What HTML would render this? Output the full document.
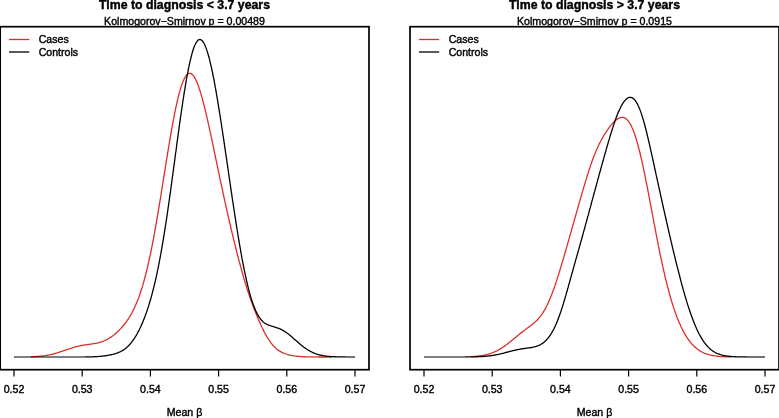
<!DOCTYPE html>
<html><head><meta charset="utf-8"><style>
html,body{margin:0;padding:0;background:#fff;}
svg{display:block;will-change:transform;}
text{font-family:"Liberation Sans",sans-serif;fill:#000;stroke:#000;stroke-width:0.4px;}
.t{font-weight:bold;font-size:12.3px;}
.s{font-size:10.6px;}
.l{font-size:10.6px;}
.n{font-size:10.6px;}
.cb{fill:none;stroke:#000;stroke-width:1.3;}
.cr{fill:none;stroke:#DE2D26;stroke-width:1.3;}
.box{fill:none;stroke:#000;stroke-width:1.7;}
.tk{stroke:#000;stroke-width:1.2;}
.lr{stroke:#DE2D26;stroke-width:1.3;}
.lb{stroke:#000;stroke-width:1.3;}
.bl{stroke:#000;stroke-width:1.1;}
</style></head><body>
<svg width="779" height="418" viewBox="0 0 779 418">
<rect width="779" height="418" fill="#fff"/>
<text x="184.5" y="8.6" class="t" text-anchor="middle">Time to diagnosis &lt; 3.7 years</text>
<text x="184.5" y="24.5" class="s" text-anchor="middle">Kolmogorov−Smirnov p = 0.00489</text>
<path d="M31.0,356.77 L31.8,356.74 L32.6,356.71 L33.4,356.68 L34.2,356.64 L35.0,356.60 L35.8,356.55 L36.6,356.50 L37.4,356.44 L38.2,356.38 L39.0,356.32 L39.8,356.25 L40.6,356.17 L41.4,356.09 L42.2,356.00 L43.0,355.91 L43.8,355.80 L44.6,355.70 L45.4,355.58 L46.2,355.46 L46.9,355.33 L47.7,355.19 L48.5,355.04 L49.3,354.89 L50.1,354.72 L50.9,354.55 L51.7,354.38 L52.4,354.19 L53.2,354.00 L54.0,353.80 L54.8,353.59 L55.5,353.38 L56.3,353.16 L57.1,352.93 L57.8,352.70 L58.6,352.46 L59.4,352.21 L60.1,351.97 L60.9,351.72 L61.7,351.46 L62.4,351.20 L63.2,350.94 L63.9,350.68 L64.7,350.42 L65.4,350.15 L66.2,349.89 L67.0,349.62 L67.7,349.36 L68.5,349.10 L69.2,348.84 L70.0,348.59 L70.8,348.34 L71.5,348.09 L72.3,347.85 L73.0,347.61 L73.8,347.38 L74.6,347.16 L75.4,346.94 L76.1,346.74 L76.9,346.53 L77.7,346.34 L78.5,346.16 L79.2,345.98 L80.0,345.81 L80.8,345.65 L81.6,345.50 L82.4,345.36 L83.2,345.22 L84.0,345.09 L84.8,344.96 L85.6,344.85 L86.3,344.73 L87.1,344.62 L87.9,344.51 L88.7,344.41 L89.5,344.30 L90.3,344.19 L91.1,344.08 L91.9,343.97 L92.7,343.85 L93.5,343.72 L94.3,343.59 L95.1,343.45 L95.9,343.30 L96.6,343.14 L97.4,342.96 L98.2,342.78 L99.0,342.57 L99.7,342.36 L100.5,342.13 L101.3,341.88 L102.0,341.62 L102.8,341.34 L103.5,341.05 L104.3,340.74 L105.0,340.42 L105.7,340.08 L106.4,339.72 L107.2,339.35 L107.9,338.97 L108.6,338.57 L109.2,338.16 L109.9,337.73 L110.6,337.30 L111.3,336.85 L111.9,336.39 L112.6,335.92 L113.2,335.44 L113.8,334.95 L114.5,334.45 L115.1,333.94 L115.7,333.42 L116.3,332.90 L116.9,332.36 L117.5,331.82 L118.1,331.27 L118.7,330.72 L119.2,330.15 L119.8,329.58 L120.3,329.00 L120.9,328.42 L121.4,327.83 L122.0,327.23 L122.5,326.63 L123.0,326.02 L123.5,325.40 L124.0,324.78 L124.5,324.15 L125.0,323.52 L125.5,322.88 L126.0,322.24 L126.5,321.59 L126.9,320.94 L127.4,320.28 L127.8,319.62 L128.3,318.95 L128.7,318.28 L129.1,317.60 L129.6,316.92 L130.0,316.24 L130.4,315.55 L130.8,314.85 L131.2,314.16 L131.6,313.46 L132.0,312.75 L132.3,312.05 L132.7,311.34 L133.1,310.62 L133.4,309.91 L133.8,309.19 L134.1,308.47 L134.5,307.74 L134.8,307.02 L135.1,306.29 L135.5,305.56 L135.8,304.82 L136.1,304.09 L136.4,303.35 L136.7,302.61 L137.0,301.87 L137.3,301.12 L137.6,300.38 L137.9,299.63 L138.2,298.88 L138.5,298.13 L138.8,297.38 L139.0,296.63 L139.3,295.87 L139.6,295.12 L139.8,294.36 L140.1,293.60 L140.4,292.85 L140.6,292.09 L140.9,291.32 L141.1,290.56 L141.4,289.80 L141.6,289.04 L141.8,288.27 L142.1,287.50 L142.3,286.74 L142.5,285.97 L142.8,285.20 L143.0,284.43 L143.2,283.66 L143.4,282.89 L143.7,282.12 L143.9,281.35 L144.1,280.58 L144.3,279.81 L144.5,279.03 L144.7,278.26 L144.9,277.49 L145.1,276.71 L145.3,275.94 L145.5,275.16 L145.7,274.38 L145.9,273.61 L146.1,272.83 L146.3,272.05 L146.5,271.27 L146.7,270.50 L146.9,269.72 L147.1,268.94 L147.3,268.16 L147.5,267.38 L147.6,266.60 L147.8,265.82 L148.0,265.04 L148.2,264.26 L148.4,263.48 L148.5,262.69 L148.7,261.91 L148.9,261.13 L149.1,260.35 L149.2,259.56 L149.4,258.78 L149.6,258.00 L149.7,257.21 L149.9,256.43 L150.1,255.65 L150.2,254.86 L150.4,254.08 L150.6,253.29 L150.7,252.51 L150.9,251.72 L151.1,250.94 L151.2,250.15 L151.4,249.37 L151.5,248.58 L151.7,247.80 L151.8,247.01 L152.0,246.22 L152.2,245.44 L152.3,244.65 L152.5,243.87 L152.6,243.08 L152.8,242.29 L152.9,241.50 L153.1,240.72 L153.2,239.93 L153.4,239.14 L153.5,238.35 L153.7,237.57 L153.8,236.78 L154.0,235.99 L154.1,235.20 L154.2,234.42 L154.4,233.63 L154.5,232.84 L154.7,232.05 L154.8,231.26 L155.0,230.47 L155.1,229.68 L155.2,228.90 L155.4,228.11 L155.5,227.32 L155.7,226.53 L155.8,225.74 L155.9,224.95 L156.1,224.16 L156.2,223.37 L156.4,222.58 L156.5,221.79 L156.6,221.00 L156.8,220.21 L156.9,219.42 L157.0,218.63 L157.2,217.84 L157.3,217.05 L157.4,216.26 L157.6,215.47 L157.7,214.68 L157.8,213.89 L158.0,213.10 L158.1,212.31 L158.2,211.52 L158.4,210.73 L158.5,209.94 L158.6,209.15 L158.8,208.36 L158.9,207.57 L159.0,206.78 L159.2,205.99 L159.3,205.20 L159.4,204.41 L159.5,203.62 L159.7,202.83 L159.8,202.03 L159.9,201.24 L160.1,200.45 L160.2,199.66 L160.3,198.87 L160.5,198.08 L160.6,197.29 L160.7,196.50 L160.8,195.71 L161.0,194.92 L161.1,194.12 L161.2,193.33 L161.3,192.54 L161.5,191.75 L161.6,190.96 L161.7,190.17 L161.9,189.38 L162.0,188.59 L162.1,187.79 L162.2,187.00 L162.4,186.21 L162.5,185.42 L162.6,184.63 L162.7,183.84 L162.9,183.05 L163.0,182.25 L163.1,181.46 L163.2,180.67 L163.4,179.88 L163.5,179.09 L163.6,178.30 L163.7,177.51 L163.9,176.71 L164.0,175.92 L164.1,175.13 L164.2,174.34 L164.4,173.55 L164.5,172.76 L164.6,171.97 L164.7,171.17 L164.9,170.38 L165.0,169.59 L165.1,168.80 L165.3,168.01 L165.4,167.22 L165.5,166.43 L165.6,165.63 L165.8,164.84 L165.9,164.05 L166.0,163.26 L166.1,162.47 L166.3,161.68 L166.4,160.89 L166.5,160.10 L166.6,159.30 L166.8,158.51 L166.9,157.72 L167.0,156.93 L167.2,156.14 L167.3,155.35 L167.4,154.56 L167.5,153.77 L167.7,152.98 L167.8,152.18 L167.9,151.39 L168.1,150.60 L168.2,149.81 L168.3,149.02 L168.4,148.23 L168.6,147.44 L168.7,146.65 L168.8,145.86 L169.0,145.07 L169.1,144.28 L169.2,143.49 L169.4,142.70 L169.5,141.91 L169.6,141.12 L169.8,140.33 L169.9,139.54 L170.0,138.75 L170.2,137.96 L170.3,137.17 L170.4,136.38 L170.6,135.59 L170.7,134.80 L170.8,134.01 L171.0,133.22 L171.1,132.43 L171.3,131.64 L171.4,130.85 L171.5,130.06 L171.7,129.27 L171.8,128.48 L172.0,127.69 L172.1,126.90 L172.2,126.12 L172.4,125.33 L172.5,124.54 L172.7,123.75 L172.8,122.96 L173.0,122.17 L173.1,121.39 L173.3,120.60 L173.4,119.81 L173.6,119.02 L173.7,118.24 L173.9,117.45 L174.0,116.66 L174.2,115.88 L174.3,115.09 L174.5,114.30 L174.6,113.52 L174.8,112.73 L174.9,111.95 L175.1,111.16 L175.3,110.38 L175.4,109.59 L175.6,108.81 L175.8,108.02 L175.9,107.24 L176.1,106.46 L176.3,105.67 L176.4,104.89 L176.6,104.11 L176.8,103.32 L177.0,102.54 L177.1,101.76 L177.3,100.98 L177.5,100.20 L177.7,99.42 L177.9,98.64 L178.1,97.86 L178.2,97.08 L178.4,96.31 L178.6,95.53 L178.8,94.75 L179.0,93.98 L179.2,93.20 L179.5,92.43 L179.7,91.66 L179.9,90.89 L180.1,90.12 L180.3,89.35 L180.6,88.58 L180.8,87.81 L181.0,87.05 L181.3,86.29 L181.5,85.53 L181.8,84.77 L182.1,84.01 L182.3,83.26 L182.6,82.51 L182.9,81.77 L183.2,81.02 L183.5,80.29 L183.9,79.56 L184.2,78.84 L184.6,78.12 L185.0,77.42 L185.4,76.74 L185.8,76.07 L186.3,75.43 L186.8,74.83 L187.4,74.28 L188.1,73.81 L188.8,73.48 L189.6,73.34 L190.4,73.42 L191.1,73.70 L191.8,74.13 L192.4,74.65 L193.0,75.23 L193.5,75.85 L193.9,76.50 L194.4,77.17 L194.8,77.86 L195.2,78.56 L195.6,79.27 L195.9,79.99 L196.3,80.71 L196.6,81.45 L196.9,82.18 L197.2,82.92 L197.5,83.66 L197.8,84.41 L198.1,85.16 L198.4,85.91 L198.6,86.67 L198.9,87.42 L199.1,88.18 L199.4,88.94 L199.7,89.70 L199.9,90.47 L200.1,91.23 L200.4,92.00 L200.6,92.76 L200.8,93.53 L201.1,94.30 L201.3,95.07 L201.5,95.84 L201.7,96.61 L201.9,97.38 L202.2,98.15 L202.4,98.93 L202.6,99.70 L202.8,100.47 L203.0,101.25 L203.2,102.02 L203.4,102.80 L203.6,103.57 L203.8,104.35 L204.0,105.13 L204.2,105.90 L204.4,106.68 L204.6,107.46 L204.8,108.24 L205.0,109.02 L205.2,109.79 L205.3,110.57 L205.5,111.35 L205.7,112.13 L205.9,112.91 L206.1,113.69 L206.3,114.47 L206.5,115.25 L206.6,116.03 L206.8,116.81 L207.0,117.59 L207.2,118.38 L207.4,119.16 L207.5,119.94 L207.7,120.72 L207.9,121.50 L208.1,122.28 L208.2,123.07 L208.4,123.85 L208.6,124.63 L208.8,125.41 L208.9,126.20 L209.1,126.98 L209.3,127.76 L209.4,128.54 L209.6,129.33 L209.8,130.11 L209.9,130.89 L210.1,131.68 L210.3,132.46 L210.5,133.24 L210.6,134.03 L210.8,134.81 L211.0,135.59 L211.1,136.38 L211.3,137.16 L211.5,137.95 L211.6,138.73 L211.8,139.51 L212.0,140.30 L212.1,141.08 L212.3,141.87 L212.5,142.65 L212.6,143.43 L212.8,144.22 L213.0,145.00 L213.1,145.79 L213.3,146.57 L213.4,147.35 L213.6,148.14 L213.8,148.92 L213.9,149.71 L214.1,150.49 L214.3,151.28 L214.4,152.06 L214.6,152.85 L214.8,153.63 L214.9,154.41 L215.1,155.20 L215.2,155.98 L215.4,156.77 L215.6,157.55 L215.7,158.34 L215.9,159.12 L216.1,159.91 L216.2,160.69 L216.4,161.47 L216.6,162.26 L216.7,163.04 L216.9,163.83 L217.0,164.61 L217.2,165.40 L217.4,166.18 L217.5,166.97 L217.7,167.75 L217.9,168.53 L218.0,169.32 L218.2,170.10 L218.4,170.89 L218.5,171.67 L218.7,172.46 L218.9,173.24 L219.0,174.02 L219.2,174.81 L219.4,175.59 L219.5,176.38 L219.7,177.16 L219.8,177.95 L220.0,178.73 L220.2,179.51 L220.3,180.30 L220.5,181.08 L220.7,181.87 L220.8,182.65 L221.0,183.43 L221.2,184.22 L221.3,185.00 L221.5,185.78 L221.7,186.57 L221.8,187.35 L222.0,188.14 L222.2,188.92 L222.4,189.70 L222.5,190.49 L222.7,191.27 L222.9,192.05 L223.0,192.84 L223.2,193.62 L223.4,194.40 L223.5,195.19 L223.7,195.97 L223.9,196.75 L224.0,197.53 L224.2,198.32 L224.4,199.10 L224.6,199.88 L224.7,200.67 L224.9,201.45 L225.1,202.23 L225.3,203.01 L225.4,203.80 L225.6,204.58 L225.8,205.36 L225.9,206.14 L226.1,206.93 L226.3,207.71 L226.5,208.49 L226.6,209.27 L226.8,210.05 L227.0,210.84 L227.2,211.62 L227.3,212.40 L227.5,213.18 L227.7,213.96 L227.9,214.74 L228.1,215.53 L228.2,216.31 L228.4,217.09 L228.6,217.87 L228.8,218.65 L228.9,219.43 L229.1,220.21 L229.3,220.99 L229.5,221.77 L229.7,222.56 L229.8,223.34 L230.0,224.12 L230.2,224.90 L230.4,225.68 L230.6,226.46 L230.8,227.24 L230.9,228.02 L231.1,228.80 L231.3,229.58 L231.5,230.36 L231.7,231.14 L231.9,231.92 L232.0,232.70 L232.2,233.48 L232.4,234.26 L232.6,235.04 L232.8,235.81 L233.0,236.59 L233.2,237.37 L233.4,238.15 L233.5,238.93 L233.7,239.71 L233.9,240.49 L234.1,241.27 L234.3,242.05 L234.5,242.82 L234.7,243.60 L234.9,244.38 L235.1,245.16 L235.3,245.94 L235.5,246.71 L235.7,247.49 L235.8,248.27 L236.0,249.05 L236.2,249.82 L236.4,250.60 L236.6,251.38 L236.8,252.15 L237.0,252.93 L237.2,253.71 L237.4,254.48 L237.6,255.26 L237.8,256.03 L238.0,256.81 L238.2,257.59 L238.4,258.36 L238.6,259.14 L238.8,259.91 L239.0,260.69 L239.2,261.46 L239.4,262.24 L239.7,263.01 L239.9,263.78 L240.1,264.56 L240.3,265.33 L240.5,266.11 L240.7,266.88 L240.9,267.65 L241.1,268.43 L241.3,269.20 L241.5,269.97 L241.8,270.74 L242.0,271.52 L242.2,272.29 L242.4,273.06 L242.6,273.83 L242.8,274.60 L243.1,275.37 L243.3,276.14 L243.5,276.91 L243.7,277.68 L243.9,278.45 L244.2,279.22 L244.4,279.99 L244.6,280.76 L244.9,281.53 L245.1,282.29 L245.3,283.06 L245.6,283.83 L245.8,284.59 L246.0,285.36 L246.3,286.13 L246.5,286.89 L246.7,287.66 L247.0,288.42 L247.2,289.18 L247.5,289.95 L247.7,290.71 L248.0,291.47 L248.2,292.23 L248.5,293.00 L248.7,293.76 L249.0,294.52 L249.2,295.28 L249.5,296.04 L249.7,296.79 L250.0,297.55 L250.2,298.31 L250.5,299.07 L250.8,299.82 L251.0,300.58 L251.3,301.33 L251.6,302.09 L251.9,302.84 L252.1,303.59 L252.4,304.35 L252.7,305.10 L253.0,305.85 L253.2,306.60 L253.5,307.35 L253.8,308.10 L254.1,308.84 L254.4,309.59 L254.7,310.34 L255.0,311.08 L255.3,311.83 L255.6,312.57 L255.9,313.32 L256.2,314.06 L256.5,314.80 L256.8,315.54 L257.1,316.28 L257.4,317.02 L257.7,317.76 L258.0,318.50 L258.3,319.23 L258.7,319.97 L259.0,320.70 L259.3,321.44 L259.6,322.17 L259.9,322.90 L260.3,323.63 L260.6,324.36 L260.9,325.09 L261.3,325.82 L261.6,326.54 L262.0,327.27 L262.3,327.99 L262.7,328.71 L263.0,329.43 L263.4,330.15 L263.7,330.87 L264.1,331.58 L264.5,332.29 L264.8,333.00 L265.2,333.71 L265.6,334.41 L266.0,335.11 L266.4,335.81 L266.8,336.50 L267.2,337.19 L267.6,337.88 L268.0,338.56 L268.5,339.23 L268.9,339.90 L269.3,340.57 L269.8,341.23 L270.3,341.88 L270.7,342.53 L271.2,343.17 L271.7,343.79 L272.2,344.41 L272.7,345.02 L273.3,345.62 L273.8,346.21 L274.4,346.79 L275.0,347.35 L275.5,347.90 L276.1,348.43 L276.7,348.95 L277.4,349.45 L278.0,349.93 L278.7,350.40 L279.3,350.84 L280.0,351.27 L280.7,351.68 L281.4,352.07 L282.1,352.44 L282.8,352.79 L283.6,353.12 L284.3,353.43 L285.0,353.72 L285.8,354.00 L286.6,354.25 L287.3,354.49 L288.1,354.71 L288.9,354.92 L289.6,355.11 L290.4,355.28 L291.2,355.44 L292.0,355.59 L292.8,355.73 L293.6,355.85 L294.4,355.97 L295.2,356.07 L296.0,356.17 L296.8,356.25 L297.6,356.33 L298.4,356.40 L299.2,356.46 L300.0,356.52 L300.8,356.57 L301.6,356.62 L302.4,356.66 L303.2,356.70 L304.0,356.74 L304.8,356.77 L305.6,356.79 L306.4,356.82 L307.2,356.84 L308.0,356.86 L308.8,356.88 L309.6,356.89 L310.4,356.90 L311.2,356.92 L312.0,356.93 L312.8,356.94 L313.6,356.94 L314.4,356.95 L315.2,356.96 L316.0,356.96 L316.8,356.97 L317.6,356.97 L318.4,356.98 L319.2,356.98 L320.0,356.98 L320.8,356.98 L321.6,356.99 L322.4,356.99 L323.2,356.99 L324.0,356.99 L324.8,356.99 L325.6,356.99 L326.4,356.99 L327.2,357.00 L328.0,357.00 L328.8,357.00 L329.6,357.00 L330.4,357.00 L331.2,357.00 L332.0,357.00" class="cr"/>
<path d="M84.5,356.97 L85.3,356.96 L86.1,356.96 L86.9,356.95 L87.7,356.94 L88.5,356.92 L89.3,356.91 L90.1,356.89 L90.9,356.87 L91.7,356.85 L92.5,356.82 L93.3,356.79 L94.1,356.76 L94.9,356.72 L95.7,356.68 L96.5,356.64 L97.3,356.58 L98.1,356.53 L98.9,356.46 L99.7,356.40 L100.5,356.32 L101.3,356.24 L102.1,356.15 L102.9,356.06 L103.7,355.96 L104.5,355.86 L105.3,355.74 L106.1,355.62 L106.9,355.50 L107.7,355.36 L108.5,355.22 L109.2,355.07 L110.0,354.92 L110.8,354.75 L111.6,354.58 L112.4,354.40 L113.2,354.20 L113.9,354.00 L114.7,353.78 L115.5,353.55 L116.2,353.31 L117.0,353.05 L117.7,352.77 L118.5,352.48 L119.2,352.17 L120.0,351.84 L120.7,351.49 L121.4,351.12 L122.1,350.73 L122.8,350.32 L123.5,349.89 L124.1,349.45 L124.8,348.98 L125.4,348.50 L126.0,347.99 L126.6,347.48 L127.2,346.94 L127.8,346.40 L128.4,345.83 L129.0,345.26 L129.5,344.67 L130.0,344.08 L130.6,343.47 L131.1,342.85 L131.6,342.23 L132.1,341.59 L132.5,340.95 L133.0,340.30 L133.5,339.64 L133.9,338.98 L134.4,338.31 L134.8,337.64 L135.2,336.96 L135.6,336.28 L136.1,335.59 L136.5,334.90 L136.9,334.20 L137.3,333.51 L137.6,332.80 L138.0,332.10 L138.4,331.39 L138.8,330.68 L139.1,329.96 L139.5,329.24 L139.8,328.52 L140.2,327.80 L140.5,327.08 L140.9,326.35 L141.2,325.62 L141.5,324.89 L141.8,324.16 L142.2,323.42 L142.5,322.68 L142.8,321.95 L143.1,321.21 L143.4,320.46 L143.7,319.72 L144.0,318.98 L144.3,318.23 L144.6,317.48 L144.9,316.73 L145.1,315.98 L145.4,315.23 L145.7,314.48 L146.0,313.73 L146.2,312.97 L146.5,312.22 L146.8,311.46 L147.0,310.70 L147.3,309.94 L147.5,309.18 L147.8,308.42 L148.0,307.66 L148.3,306.90 L148.5,306.13 L148.8,305.37 L149.0,304.61 L149.2,303.84 L149.5,303.07 L149.7,302.31 L149.9,301.54 L150.2,300.77 L150.4,300.00 L150.6,299.23 L150.8,298.46 L151.1,297.69 L151.3,296.92 L151.5,296.14 L151.7,295.37 L151.9,294.60 L152.1,293.82 L152.3,293.05 L152.5,292.28 L152.7,291.50 L152.9,290.72 L153.1,289.95 L153.3,289.17 L153.5,288.39 L153.7,287.62 L153.9,286.84 L154.1,286.06 L154.3,285.28 L154.5,284.50 L154.7,283.72 L154.8,282.94 L155.0,282.16 L155.2,281.38 L155.4,280.60 L155.6,279.82 L155.7,279.04 L155.9,278.26 L156.1,277.47 L156.3,276.69 L156.4,275.91 L156.6,275.13 L156.8,274.34 L156.9,273.56 L157.1,272.77 L157.3,271.99 L157.4,271.21 L157.6,270.42 L157.8,269.64 L157.9,268.85 L158.1,268.07 L158.2,267.28 L158.4,266.50 L158.6,265.71 L158.7,264.92 L158.9,264.14 L159.0,263.35 L159.2,262.56 L159.3,261.78 L159.5,260.99 L159.6,260.20 L159.8,259.42 L159.9,258.63 L160.1,257.84 L160.2,257.05 L160.4,256.27 L160.5,255.48 L160.6,254.69 L160.8,253.90 L160.9,253.11 L161.1,252.32 L161.2,251.53 L161.4,250.75 L161.5,249.96 L161.6,249.17 L161.8,248.38 L161.9,247.59 L162.0,246.80 L162.2,246.01 L162.3,245.22 L162.5,244.43 L162.6,243.64 L162.7,242.85 L162.9,242.06 L163.0,241.27 L163.1,240.48 L163.3,239.69 L163.4,238.90 L163.5,238.11 L163.6,237.32 L163.8,236.53 L163.9,235.73 L164.0,234.94 L164.2,234.15 L164.3,233.36 L164.4,232.57 L164.5,231.78 L164.7,230.99 L164.8,230.20 L164.9,229.40 L165.0,228.61 L165.2,227.82 L165.3,227.03 L165.4,226.24 L165.5,225.44 L165.7,224.65 L165.8,223.86 L165.9,223.07 L166.0,222.28 L166.1,221.48 L166.3,220.69 L166.4,219.90 L166.5,219.11 L166.6,218.31 L166.7,217.52 L166.9,216.73 L167.0,215.94 L167.1,215.14 L167.2,214.35 L167.3,213.56 L167.4,212.77 L167.6,211.97 L167.7,211.18 L167.8,210.39 L167.9,209.59 L168.0,208.80 L168.1,208.01 L168.2,207.22 L168.4,206.42 L168.5,205.63 L168.6,204.84 L168.7,204.04 L168.8,203.25 L168.9,202.46 L169.0,201.66 L169.2,200.87 L169.3,200.08 L169.4,199.28 L169.5,198.49 L169.6,197.69 L169.7,196.90 L169.8,196.11 L169.9,195.31 L170.0,194.52 L170.2,193.73 L170.3,192.93 L170.4,192.14 L170.5,191.35 L170.6,190.55 L170.7,189.76 L170.8,188.96 L170.9,188.17 L171.0,187.38 L171.1,186.58 L171.3,185.79 L171.4,184.99 L171.5,184.20 L171.6,183.41 L171.7,182.61 L171.8,181.82 L171.9,181.02 L172.0,180.23 L172.1,179.44 L172.2,178.64 L172.3,177.85 L172.4,177.05 L172.5,176.26 L172.7,175.47 L172.8,174.67 L172.9,173.88 L173.0,173.08 L173.1,172.29 L173.2,171.50 L173.3,170.70 L173.4,169.91 L173.5,169.11 L173.6,168.32 L173.7,167.52 L173.8,166.73 L173.9,165.94 L174.0,165.14 L174.2,164.35 L174.3,163.55 L174.4,162.76 L174.5,161.97 L174.6,161.17 L174.7,160.38 L174.8,159.58 L174.9,158.79 L175.0,157.99 L175.1,157.20 L175.2,156.41 L175.3,155.61 L175.4,154.82 L175.5,154.02 L175.6,153.23 L175.7,152.43 L175.9,151.64 L176.0,150.85 L176.1,150.05 L176.2,149.26 L176.3,148.46 L176.4,147.67 L176.5,146.87 L176.6,146.08 L176.7,145.29 L176.8,144.49 L176.9,143.70 L177.0,142.90 L177.1,142.11 L177.2,141.32 L177.3,140.52 L177.5,139.73 L177.6,138.93 L177.7,138.14 L177.8,137.34 L177.9,136.55 L178.0,135.76 L178.1,134.96 L178.2,134.17 L178.3,133.37 L178.4,132.58 L178.5,131.79 L178.6,130.99 L178.8,130.20 L178.9,129.41 L179.0,128.61 L179.1,127.82 L179.2,127.02 L179.3,126.23 L179.4,125.44 L179.5,124.64 L179.6,123.85 L179.7,123.06 L179.9,122.26 L180.0,121.47 L180.1,120.67 L180.2,119.88 L180.3,119.09 L180.4,118.29 L180.5,117.50 L180.6,116.71 L180.8,115.91 L180.9,115.12 L181.0,114.33 L181.1,113.53 L181.2,112.74 L181.3,111.95 L181.4,111.15 L181.6,110.36 L181.7,109.57 L181.8,108.78 L181.9,107.98 L182.0,107.19 L182.1,106.40 L182.3,105.61 L182.4,104.81 L182.5,104.02 L182.6,103.23 L182.7,102.43 L182.8,101.64 L183.0,100.85 L183.1,100.06 L183.2,99.27 L183.3,98.47 L183.5,97.68 L183.6,96.89 L183.7,96.10 L183.8,95.31 L183.9,94.51 L184.1,93.72 L184.2,92.93 L184.3,92.14 L184.4,91.35 L184.6,90.56 L184.7,89.77 L184.8,88.98 L185.0,88.19 L185.1,87.39 L185.2,86.60 L185.4,85.81 L185.5,85.02 L185.6,84.23 L185.8,83.44 L185.9,82.65 L186.0,81.86 L186.2,81.07 L186.3,80.29 L186.4,79.50 L186.6,78.71 L186.7,77.92 L186.9,77.13 L187.0,76.34 L187.2,75.55 L187.3,74.77 L187.5,73.98 L187.6,73.19 L187.8,72.40 L187.9,71.62 L188.1,70.83 L188.2,70.04 L188.4,69.26 L188.5,68.47 L188.7,67.69 L188.9,66.90 L189.0,66.12 L189.2,65.33 L189.3,64.55 L189.5,63.77 L189.7,62.99 L189.9,62.20 L190.0,61.42 L190.2,60.64 L190.4,59.86 L190.6,59.08 L190.8,58.30 L191.0,57.53 L191.2,56.75 L191.4,55.97 L191.6,55.20 L191.8,54.43 L192.0,53.65 L192.2,52.88 L192.4,52.11 L192.7,51.35 L192.9,50.58 L193.2,49.82 L193.4,49.06 L193.7,48.30 L193.9,47.55 L194.2,46.80 L194.5,46.05 L194.8,45.31 L195.2,44.58 L195.5,43.86 L195.9,43.15 L196.3,42.45 L196.7,41.77 L197.2,41.13 L197.7,40.53 L198.3,40.01 L199.0,39.63 L199.8,39.47 L200.6,39.59 L201.3,39.94 L201.9,40.44 L202.5,41.02 L203.0,41.66 L203.4,42.32 L203.8,43.01 L204.2,43.72 L204.6,44.43 L204.9,45.16 L205.2,45.89 L205.5,46.63 L205.8,47.38 L206.1,48.13 L206.4,48.88 L206.7,49.64 L206.9,50.40 L207.2,51.16 L207.4,51.92 L207.6,52.69 L207.9,53.45 L208.1,54.22 L208.3,54.99 L208.5,55.77 L208.7,56.54 L209.0,57.31 L209.2,58.09 L209.4,58.86 L209.6,59.64 L209.8,60.42 L209.9,61.19 L210.1,61.97 L210.3,62.75 L210.5,63.53 L210.7,64.31 L210.9,65.09 L211.0,65.87 L211.2,66.66 L211.4,67.44 L211.6,68.22 L211.7,69.00 L211.9,69.79 L212.1,70.57 L212.2,71.36 L212.4,72.14 L212.6,72.93 L212.7,73.71 L212.9,74.50 L213.0,75.28 L213.2,76.07 L213.4,76.85 L213.5,77.64 L213.7,78.43 L213.8,79.21 L214.0,80.00 L214.1,80.79 L214.3,81.57 L214.4,82.36 L214.6,83.15 L214.7,83.94 L214.9,84.73 L215.0,85.51 L215.1,86.30 L215.3,87.09 L215.4,87.88 L215.6,88.67 L215.7,89.46 L215.8,90.25 L216.0,91.04 L216.1,91.82 L216.3,92.61 L216.4,93.40 L216.5,94.19 L216.7,94.98 L216.8,95.77 L216.9,96.56 L217.1,97.35 L217.2,98.14 L217.3,98.93 L217.5,99.72 L217.6,100.51 L217.7,101.30 L217.9,102.09 L218.0,102.89 L218.1,103.68 L218.3,104.47 L218.4,105.26 L218.5,106.05 L218.6,106.84 L218.8,107.63 L218.9,108.42 L219.0,109.21 L219.2,110.00 L219.3,110.80 L219.4,111.59 L219.5,112.38 L219.7,113.17 L219.8,113.96 L219.9,114.75 L220.0,115.54 L220.2,116.34 L220.3,117.13 L220.4,117.92 L220.5,118.71 L220.7,119.50 L220.8,120.29 L220.9,121.09 L221.0,121.88 L221.1,122.67 L221.3,123.46 L221.4,124.25 L221.5,125.05 L221.6,125.84 L221.7,126.63 L221.9,127.42 L222.0,128.22 L222.1,129.01 L222.2,129.80 L222.3,130.59 L222.5,131.39 L222.6,132.18 L222.7,132.97 L222.8,133.76 L222.9,134.55 L223.1,135.35 L223.2,136.14 L223.3,136.93 L223.4,137.73 L223.5,138.52 L223.7,139.31 L223.8,140.10 L223.9,140.90 L224.0,141.69 L224.1,142.48 L224.2,143.27 L224.4,144.07 L224.5,144.86 L224.6,145.65 L224.7,146.44 L224.8,147.24 L224.9,148.03 L225.1,148.82 L225.2,149.62 L225.3,150.41 L225.4,151.20 L225.5,151.99 L225.6,152.79 L225.8,153.58 L225.9,154.37 L226.0,155.17 L226.1,155.96 L226.2,156.75 L226.3,157.54 L226.5,158.34 L226.6,159.13 L226.7,159.92 L226.8,160.72 L226.9,161.51 L227.0,162.30 L227.1,163.10 L227.3,163.89 L227.4,164.68 L227.5,165.47 L227.6,166.27 L227.7,167.06 L227.8,167.85 L228.0,168.65 L228.1,169.44 L228.2,170.23 L228.3,171.03 L228.4,171.82 L228.5,172.61 L228.6,173.40 L228.8,174.20 L228.9,174.99 L229.0,175.78 L229.1,176.58 L229.2,177.37 L229.3,178.16 L229.5,178.95 L229.6,179.75 L229.7,180.54 L229.8,181.33 L229.9,182.13 L230.0,182.92 L230.2,183.71 L230.3,184.51 L230.4,185.30 L230.5,186.09 L230.6,186.88 L230.7,187.68 L230.9,188.47 L231.0,189.26 L231.1,190.05 L231.2,190.85 L231.3,191.64 L231.4,192.43 L231.6,193.23 L231.7,194.02 L231.8,194.81 L231.9,195.60 L232.0,196.40 L232.1,197.19 L232.3,197.98 L232.4,198.77 L232.5,199.57 L232.6,200.36 L232.7,201.15 L232.8,201.94 L233.0,202.74 L233.1,203.53 L233.2,204.32 L233.3,205.11 L233.4,205.91 L233.6,206.70 L233.7,207.49 L233.8,208.28 L233.9,209.08 L234.0,209.87 L234.2,210.66 L234.3,211.45 L234.4,212.25 L234.5,213.04 L234.6,213.83 L234.8,214.62 L234.9,215.41 L235.0,216.21 L235.1,217.00 L235.3,217.79 L235.4,218.58 L235.5,219.37 L235.6,220.17 L235.7,220.96 L235.9,221.75 L236.0,222.54 L236.1,223.33 L236.2,224.12 L236.4,224.92 L236.5,225.71 L236.6,226.50 L236.7,227.29 L236.9,228.08 L237.0,228.87 L237.1,229.66 L237.3,230.45 L237.4,231.25 L237.5,232.04 L237.6,232.83 L237.8,233.62 L237.9,234.41 L238.0,235.20 L238.2,235.99 L238.3,236.78 L238.4,237.57 L238.5,238.36 L238.7,239.15 L238.8,239.94 L238.9,240.73 L239.1,241.52 L239.2,242.31 L239.3,243.11 L239.5,243.90 L239.6,244.69 L239.7,245.47 L239.9,246.26 L240.0,247.05 L240.2,247.84 L240.3,248.63 L240.4,249.42 L240.6,250.21 L240.7,251.00 L240.8,251.79 L241.0,252.58 L241.1,253.37 L241.3,254.16 L241.4,254.94 L241.6,255.73 L241.7,256.52 L241.8,257.31 L242.0,258.10 L242.1,258.89 L242.3,259.67 L242.4,260.46 L242.6,261.25 L242.7,262.04 L242.9,262.82 L243.0,263.61 L243.2,264.40 L243.3,265.18 L243.5,265.97 L243.6,266.76 L243.8,267.54 L244.0,268.33 L244.1,269.11 L244.3,269.90 L244.4,270.68 L244.6,271.47 L244.8,272.25 L244.9,273.04 L245.1,273.82 L245.3,274.61 L245.4,275.39 L245.6,276.17 L245.8,276.96 L245.9,277.74 L246.1,278.52 L246.3,279.30 L246.5,280.09 L246.6,280.87 L246.8,281.65 L247.0,282.43 L247.2,283.21 L247.4,283.99 L247.5,284.77 L247.7,285.55 L247.9,286.33 L248.1,287.10 L248.3,287.88 L248.5,288.66 L248.7,289.43 L248.9,290.21 L249.1,290.99 L249.3,291.76 L249.5,292.53 L249.7,293.31 L249.9,294.08 L250.2,294.85 L250.4,295.62 L250.6,296.39 L250.8,297.16 L251.1,297.93 L251.3,298.69 L251.5,299.46 L251.8,300.22 L252.0,300.98 L252.3,301.75 L252.5,302.51 L252.8,303.26 L253.1,304.02 L253.3,304.77 L253.6,305.53 L253.9,306.28 L254.2,307.02 L254.5,307.77 L254.8,308.51 L255.1,309.25 L255.4,309.99 L255.7,310.72 L256.1,311.45 L256.4,312.17 L256.8,312.89 L257.1,313.60 L257.5,314.31 L257.9,315.01 L258.3,315.70 L258.7,316.38 L259.1,317.06 L259.6,317.72 L260.1,318.37 L260.5,319.01 L261.1,319.63 L261.6,320.24 L262.1,320.82 L262.7,321.39 L263.3,321.93 L263.9,322.44 L264.5,322.92 L265.2,323.38 L265.9,323.80 L266.6,324.19 L267.3,324.55 L268.0,324.88 L268.8,325.18 L269.5,325.46 L270.3,325.71 L271.0,325.95 L271.8,326.18 L272.6,326.40 L273.4,326.62 L274.1,326.84 L274.9,327.06 L275.7,327.29 L276.4,327.53 L277.2,327.78 L277.9,328.05 L278.7,328.34 L279.4,328.64 L280.2,328.96 L280.9,329.30 L281.6,329.65 L282.3,330.03 L283.0,330.42 L283.7,330.82 L284.4,331.24 L285.1,331.67 L285.7,332.12 L286.4,332.58 L287.0,333.05 L287.7,333.52 L288.3,334.01 L289.0,334.51 L289.6,335.01 L290.2,335.52 L290.8,336.03 L291.4,336.55 L292.0,337.07 L292.6,337.59 L293.2,338.12 L293.8,338.65 L294.4,339.18 L295.0,339.71 L295.6,340.24 L296.2,340.77 L296.8,341.31 L297.4,341.83 L298.1,342.36 L298.7,342.89 L299.3,343.41 L299.9,343.93 L300.5,344.44 L301.1,344.95 L301.7,345.46 L302.4,345.96 L303.0,346.45 L303.6,346.94 L304.3,347.42 L304.9,347.89 L305.6,348.35 L306.2,348.81 L306.9,349.25 L307.6,349.68 L308.2,350.11 L308.9,350.52 L309.6,350.91 L310.3,351.30 L311.0,351.67 L311.8,352.03 L312.5,352.38 L313.2,352.71 L314.0,353.02 L314.7,353.32 L315.4,353.61 L316.2,353.88 L317.0,354.13 L317.7,354.37 L318.5,354.59 L319.3,354.81 L320.0,355.00 L320.8,355.18 L321.6,355.35 L322.4,355.51 L323.2,355.66 L324.0,355.79 L324.8,355.91 L325.6,356.02 L326.4,356.12 L327.1,356.22 L327.9,356.30 L328.7,356.38 L329.5,356.45 L330.3,356.51 L331.1,356.57 L331.9,356.62 L332.7,356.66 L333.5,356.70 L334.3,356.74 L335.1,356.77 L335.9,356.80 L336.7,356.82 L337.5,356.85 L338.3,356.87 L339.1,356.88 L339.9,356.90 L340.7,356.91 L341.5,356.92 L342.3,356.94 L343.2,356.94 L344.0,356.95 L344.8,356.96 L345.6,356.96 L346.4,356.97" class="cb"/>
<line x1="14.00" y1="357" x2="84.51" y2="357" class="bl"/>
<line x1="346.36" y1="357" x2="355.00" y2="357" class="bl"/>
<rect x="0.2" y="26.7" width="368.8" height="343.0" class="box"/>
<line x1="14.0" y1="369.6" x2="14.0" y2="376.6" class="tk"/>
<text x="14.0" y="392.8" class="n" text-anchor="middle">0.52</text>
<line x1="82.2" y1="369.6" x2="82.2" y2="376.6" class="tk"/>
<text x="82.2" y="392.8" class="n" text-anchor="middle">0.53</text>
<line x1="150.4" y1="369.6" x2="150.4" y2="376.6" class="tk"/>
<text x="150.4" y="392.8" class="n" text-anchor="middle">0.54</text>
<line x1="218.6" y1="369.6" x2="218.6" y2="376.6" class="tk"/>
<text x="218.6" y="392.8" class="n" text-anchor="middle">0.55</text>
<line x1="286.8" y1="369.6" x2="286.8" y2="376.6" class="tk"/>
<text x="286.8" y="392.8" class="n" text-anchor="middle">0.56</text>
<line x1="355.0" y1="369.6" x2="355.0" y2="376.6" class="tk"/>
<text x="355.0" y="392.8" class="n" text-anchor="middle">0.57</text>
<text x="184.5" y="415.8" class="n" text-anchor="middle">Mean β</text>
<line x1="9" y1="39.5" x2="29.2" y2="39.5" class="lr"/>
<line x1="9" y1="52.0" x2="29.2" y2="52.0" class="lb"/>
<text x="38.7" y="43.1" class="l">Cases</text>
<text x="38.7" y="55.8" class="l">Controls</text>
<text x="594.5" y="8.6" class="t" text-anchor="middle">Time to diagnosis &gt; 3.7 years</text>
<text x="594.5" y="24.5" class="s" text-anchor="middle">Kolmogorov−Smirnov p = 0.0915</text>
<path d="M471.0,356.65 L471.8,356.61 L472.6,356.57 L473.4,356.52 L474.2,356.46 L475.0,356.40 L475.8,356.34 L476.6,356.27 L477.4,356.19 L478.2,356.10 L479.0,356.01 L479.8,355.91 L480.6,355.80 L481.4,355.68 L482.2,355.56 L482.9,355.42 L483.7,355.27 L484.5,355.11 L485.3,354.94 L486.1,354.76 L486.9,354.57 L487.6,354.37 L488.4,354.15 L489.2,353.92 L489.9,353.68 L490.7,353.43 L491.5,353.16 L492.2,352.88 L493.0,352.59 L493.7,352.28 L494.4,351.96 L495.2,351.63 L495.9,351.29 L496.6,350.93 L497.3,350.57 L498.0,350.19 L498.7,349.80 L499.4,349.41 L500.1,349.00 L500.8,348.58 L501.5,348.15 L502.1,347.72 L502.8,347.28 L503.5,346.83 L504.1,346.37 L504.8,345.91 L505.4,345.43 L506.1,344.96 L506.7,344.48 L507.4,343.99 L508.0,343.50 L508.6,343.01 L509.2,342.51 L509.9,342.01 L510.5,341.51 L511.1,341.00 L511.7,340.49 L512.4,339.98 L513.0,339.47 L513.6,338.96 L514.2,338.45 L514.8,337.94 L515.4,337.43 L516.1,336.92 L516.7,336.41 L517.3,335.90 L517.9,335.39 L518.5,334.89 L519.2,334.38 L519.8,333.88 L520.4,333.38 L521.0,332.88 L521.7,332.39 L522.3,331.90 L522.9,331.41 L523.6,330.92 L524.2,330.44 L524.9,329.96 L525.5,329.48 L526.1,329.00 L526.8,328.52 L527.4,328.05 L528.1,327.57 L528.7,327.09 L529.4,326.61 L530.0,326.13 L530.6,325.65 L531.3,325.16 L531.9,324.66 L532.5,324.16 L533.1,323.66 L533.8,323.14 L534.4,322.62 L535.0,322.08 L535.6,321.54 L536.1,320.99 L536.7,320.43 L537.3,319.86 L537.8,319.28 L538.4,318.68 L538.9,318.08 L539.4,317.47 L539.9,316.85 L540.4,316.22 L540.9,315.58 L541.4,314.94 L541.8,314.29 L542.3,313.63 L542.7,312.96 L543.2,312.29 L543.6,311.61 L544.0,310.92 L544.4,310.23 L544.8,309.54 L545.2,308.84 L545.6,308.14 L546.0,307.43 L546.3,306.72 L546.7,306.00 L547.1,305.29 L547.4,304.57 L547.8,303.84 L548.1,303.12 L548.4,302.39 L548.8,301.66 L549.1,300.93 L549.4,300.19 L549.7,299.45 L550.0,298.72 L550.3,297.98 L550.6,297.23 L550.9,296.49 L551.2,295.75 L551.5,295.00 L551.8,294.25 L552.1,293.50 L552.4,292.76 L552.7,292.00 L552.9,291.25 L553.2,290.50 L553.5,289.75 L553.8,288.99 L554.0,288.24 L554.3,287.48 L554.6,286.72 L554.8,285.97 L555.1,285.21 L555.3,284.45 L555.6,283.69 L555.9,282.93 L556.1,282.17 L556.4,281.41 L556.6,280.65 L556.9,279.89 L557.1,279.12 L557.3,278.36 L557.6,277.60 L557.8,276.84 L558.1,276.07 L558.3,275.31 L558.6,274.54 L558.8,273.78 L559.0,273.01 L559.3,272.25 L559.5,271.48 L559.7,270.71 L560.0,269.95 L560.2,269.18 L560.4,268.41 L560.7,267.65 L560.9,266.88 L561.1,266.11 L561.4,265.35 L561.6,264.58 L561.8,263.81 L562.0,263.04 L562.3,262.27 L562.5,261.50 L562.7,260.74 L563.0,259.97 L563.2,259.20 L563.4,258.43 L563.6,257.66 L563.9,256.89 L564.1,256.12 L564.3,255.35 L564.5,254.58 L564.7,253.81 L565.0,253.04 L565.2,252.27 L565.4,251.50 L565.6,250.73 L565.9,249.96 L566.1,249.19 L566.3,248.42 L566.5,247.65 L566.7,246.88 L567.0,246.11 L567.2,245.34 L567.4,244.57 L567.6,243.80 L567.8,243.03 L568.1,242.26 L568.3,241.49 L568.5,240.72 L568.7,239.95 L568.9,239.18 L569.2,238.41 L569.4,237.64 L569.6,236.87 L569.8,236.10 L570.0,235.33 L570.3,234.56 L570.5,233.79 L570.7,233.01 L570.9,232.24 L571.1,231.47 L571.4,230.70 L571.6,229.93 L571.8,229.16 L572.0,228.39 L572.2,227.62 L572.4,226.85 L572.7,226.08 L572.9,225.31 L573.1,224.53 L573.3,223.76 L573.5,222.99 L573.8,222.22 L574.0,221.45 L574.2,220.68 L574.4,219.91 L574.6,219.14 L574.9,218.37 L575.1,217.60 L575.3,216.83 L575.5,216.05 L575.7,215.28 L575.9,214.51 L576.2,213.74 L576.4,212.97 L576.6,212.20 L576.8,211.43 L577.0,210.66 L577.3,209.89 L577.5,209.12 L577.7,208.34 L577.9,207.57 L578.1,206.80 L578.3,206.03 L578.6,205.26 L578.8,204.49 L579.0,203.72 L579.2,202.95 L579.4,202.18 L579.7,201.41 L579.9,200.64 L580.1,199.87 L580.3,199.10 L580.5,198.33 L580.8,197.56 L581.0,196.79 L581.2,196.02 L581.4,195.25 L581.7,194.48 L581.9,193.71 L582.1,192.94 L582.3,192.17 L582.5,191.40 L582.8,190.63 L583.0,189.86 L583.2,189.09 L583.4,188.32 L583.7,187.55 L583.9,186.79 L584.1,186.02 L584.4,185.25 L584.6,184.48 L584.8,183.71 L585.0,182.95 L585.3,182.18 L585.5,181.41 L585.7,180.65 L586.0,179.88 L586.2,179.11 L586.4,178.35 L586.7,177.58 L586.9,176.82 L587.2,176.05 L587.4,175.29 L587.6,174.52 L587.9,173.76 L588.1,173.00 L588.4,172.23 L588.6,171.47 L588.9,170.71 L589.1,169.95 L589.4,169.18 L589.6,168.42 L589.9,167.66 L590.1,166.90 L590.4,166.15 L590.6,165.39 L590.9,164.63 L591.2,163.87 L591.4,163.12 L591.7,162.36 L592.0,161.61 L592.2,160.85 L592.5,160.10 L592.8,159.35 L593.1,158.60 L593.3,157.85 L593.6,157.10 L593.9,156.35 L594.2,155.60 L594.5,154.86 L594.8,154.11 L595.1,153.37 L595.4,152.63 L595.7,151.89 L596.0,151.15 L596.3,150.41 L596.6,149.67 L597.0,148.94 L597.3,148.21 L597.6,147.48 L598.0,146.75 L598.3,146.02 L598.6,145.30 L599.0,144.57 L599.3,143.85 L599.7,143.14 L600.0,142.42 L600.4,141.71 L600.8,141.00 L601.2,140.29 L601.5,139.58 L601.9,138.88 L602.3,138.18 L602.7,137.48 L603.1,136.79 L603.5,136.10 L603.9,135.41 L604.3,134.73 L604.8,134.05 L605.2,133.37 L605.6,132.70 L606.1,132.03 L606.5,131.37 L607.0,130.70 L607.4,130.05 L607.9,129.39 L608.4,128.74 L608.8,128.10 L609.3,127.46 L609.8,126.82 L610.3,126.20 L610.8,125.57 L611.3,124.95 L611.8,124.34 L612.4,123.74 L612.9,123.15 L613.5,122.56 L614.0,121.99 L614.6,121.43 L615.2,120.88 L615.8,120.35 L616.4,119.84 L617.0,119.35 L617.7,118.89 L618.4,118.47 L619.1,118.10 L619.8,117.78 L620.6,117.53 L621.4,117.37 L622.1,117.30 L622.9,117.35 L623.7,117.51 L624.5,117.78 L625.2,118.14 L625.9,118.58 L626.5,119.07 L627.1,119.62 L627.6,120.20 L628.2,120.82 L628.6,121.45 L629.1,122.11 L629.5,122.78 L630.0,123.46 L630.4,124.16 L630.7,124.86 L631.1,125.58 L631.5,126.29 L631.8,127.02 L632.1,127.75 L632.5,128.48 L632.8,129.22 L633.1,129.96 L633.4,130.71 L633.7,131.45 L633.9,132.20 L634.2,132.96 L634.5,133.71 L634.7,134.47 L635.0,135.23 L635.3,135.99 L635.5,136.75 L635.7,137.51 L636.0,138.28 L636.2,139.04 L636.5,139.81 L636.7,140.58 L636.9,141.35 L637.1,142.12 L637.3,142.89 L637.6,143.66 L637.8,144.43 L638.0,145.20 L638.2,145.98 L638.4,146.75 L638.6,147.53 L638.8,148.30 L639.0,149.08 L639.2,149.85 L639.4,150.63 L639.6,151.41 L639.8,152.19 L640.0,152.96 L640.2,153.74 L640.4,154.52 L640.5,155.30 L640.7,156.08 L640.9,156.86 L641.1,157.64 L641.3,158.42 L641.4,159.20 L641.6,159.98 L641.8,160.77 L642.0,161.55 L642.2,162.33 L642.3,163.11 L642.5,163.90 L642.7,164.68 L642.8,165.46 L643.0,166.24 L643.2,167.03 L643.3,167.81 L643.5,168.60 L643.7,169.38 L643.8,170.16 L644.0,170.95 L644.2,171.73 L644.3,172.52 L644.5,173.30 L644.7,174.09 L644.8,174.87 L645.0,175.66 L645.1,176.44 L645.3,177.23 L645.5,178.01 L645.6,178.80 L645.8,179.58 L645.9,180.37 L646.1,181.16 L646.2,181.94 L646.4,182.73 L646.5,183.51 L646.7,184.30 L646.9,185.09 L647.0,185.87 L647.2,186.66 L647.3,187.45 L647.5,188.23 L647.6,189.02 L647.8,189.81 L647.9,190.59 L648.1,191.38 L648.2,192.17 L648.4,192.95 L648.5,193.74 L648.7,194.53 L648.8,195.32 L649.0,196.10 L649.1,196.89 L649.3,197.68 L649.4,198.46 L649.6,199.25 L649.7,200.04 L649.9,200.83 L650.0,201.61 L650.2,202.40 L650.3,203.19 L650.5,203.98 L650.6,204.76 L650.8,205.55 L650.9,206.34 L651.1,207.13 L651.2,207.91 L651.3,208.70 L651.5,209.49 L651.6,210.28 L651.8,211.06 L651.9,211.85 L652.1,212.64 L652.2,213.43 L652.4,214.21 L652.5,215.00 L652.7,215.79 L652.8,216.58 L653.0,217.36 L653.1,218.15 L653.3,218.94 L653.4,219.73 L653.6,220.51 L653.7,221.30 L653.9,222.09 L654.0,222.87 L654.2,223.66 L654.3,224.45 L654.5,225.24 L654.6,226.02 L654.8,226.81 L654.9,227.60 L655.1,228.39 L655.2,229.17 L655.4,229.96 L655.5,230.75 L655.7,231.53 L655.8,232.32 L656.0,233.11 L656.1,233.89 L656.3,234.68 L656.4,235.47 L656.6,236.25 L656.7,237.04 L656.9,237.83 L657.0,238.61 L657.2,239.40 L657.3,240.19 L657.5,240.97 L657.7,241.76 L657.8,242.54 L658.0,243.33 L658.1,244.12 L658.3,244.90 L658.4,245.69 L658.6,246.47 L658.7,247.26 L658.9,248.05 L659.1,248.83 L659.2,249.62 L659.4,250.40 L659.5,251.19 L659.7,251.97 L659.9,252.76 L660.0,253.54 L660.2,254.33 L660.3,255.11 L660.5,255.89 L660.7,256.68 L660.8,257.46 L661.0,258.25 L661.2,259.03 L661.3,259.82 L661.5,260.60 L661.7,261.38 L661.8,262.17 L662.0,262.95 L662.2,263.73 L662.3,264.52 L662.5,265.30 L662.7,266.08 L662.9,266.86 L663.0,267.65 L663.2,268.43 L663.4,269.21 L663.6,269.99 L663.7,270.77 L663.9,271.55 L664.1,272.33 L664.3,273.12 L664.5,273.90 L664.6,274.68 L664.8,275.46 L665.0,276.24 L665.2,277.02 L665.4,277.80 L665.6,278.58 L665.7,279.35 L665.9,280.13 L666.1,280.91 L666.3,281.69 L666.5,282.47 L666.7,283.25 L666.9,284.02 L667.1,284.80 L667.3,285.58 L667.5,286.35 L667.7,287.13 L667.9,287.90 L668.1,288.68 L668.3,289.45 L668.5,290.23 L668.7,291.00 L668.9,291.78 L669.1,292.55 L669.3,293.32 L669.5,294.10 L669.8,294.87 L670.0,295.64 L670.2,296.41 L670.4,297.18 L670.6,297.95 L670.9,298.72 L671.1,299.49 L671.3,300.26 L671.5,301.02 L671.8,301.79 L672.0,302.56 L672.2,303.32 L672.5,304.09 L672.7,304.85 L673.0,305.62 L673.2,306.38 L673.5,307.14 L673.7,307.90 L674.0,308.66 L674.2,309.42 L674.5,310.18 L674.7,310.94 L675.0,311.70 L675.3,312.45 L675.5,313.21 L675.8,313.96 L676.1,314.71 L676.4,315.47 L676.6,316.22 L676.9,316.97 L677.2,317.71 L677.5,318.46 L677.8,319.20 L678.1,319.95 L678.4,320.69 L678.7,321.43 L679.0,322.17 L679.3,322.91 L679.7,323.64 L680.0,324.37 L680.3,325.10 L680.6,325.83 L681.0,326.56 L681.3,327.28 L681.7,328.01 L682.0,328.72 L682.4,329.44 L682.7,330.15 L683.1,330.87 L683.5,331.57 L683.9,332.28 L684.3,332.98 L684.7,333.68 L685.1,334.37 L685.5,335.06 L685.9,335.74 L686.3,336.42 L686.7,337.10 L687.2,337.77 L687.6,338.43 L688.1,339.09 L688.5,339.75 L689.0,340.39 L689.5,341.03 L690.0,341.67 L690.5,342.29 L691.0,342.91 L691.5,343.52 L692.0,344.12 L692.6,344.71 L693.1,345.29 L693.7,345.86 L694.3,346.42 L694.9,346.97 L695.5,347.50 L696.1,348.02 L696.7,348.53 L697.3,349.02 L698.0,349.50 L698.6,349.97 L699.3,350.42 L700.0,350.85 L700.6,351.26 L701.3,351.66 L702.0,352.04 L702.8,352.40 L703.5,352.75 L704.2,353.08 L704.9,353.39 L705.7,353.68 L706.4,353.95 L707.2,354.21 L708.0,354.45 L708.7,354.67 L709.5,354.88 L710.3,355.08 L711.1,355.26 L711.9,355.42 L712.6,355.57 L713.4,355.71 L714.2,355.84 L715.0,355.96 L715.8,356.07 L716.6,356.17 L717.4,356.25 L718.2,356.33 L719.0,356.41 L719.8,356.47 L720.6,356.53 L721.4,356.59 L722.2,356.63 L723.0,356.68 L723.8,356.71 L724.6,356.75 L725.4,356.78 L726.2,356.81 L727.0,356.83 L727.8,356.85 L728.6,356.87 L729.4,356.89 L730.2,356.90 L731.0,356.91" class="cr"/>
<path d="M464.8,356.97 L465.6,356.97 L466.4,356.96 L467.2,356.95 L468.0,356.95 L468.8,356.94 L469.6,356.93 L470.4,356.92 L471.2,356.91 L472.0,356.89 L472.8,356.88 L473.6,356.86 L474.4,356.84 L475.2,356.82 L476.0,356.80 L476.8,356.78 L477.6,356.75 L478.4,356.72 L479.2,356.68 L480.0,356.65 L480.8,356.61 L481.6,356.56 L482.4,356.51 L483.2,356.46 L484.0,356.40 L484.8,356.34 L485.6,356.27 L486.4,356.20 L487.2,356.12 L488.0,356.03 L488.8,355.94 L489.6,355.85 L490.4,355.74 L491.2,355.63 L492.0,355.52 L492.8,355.40 L493.6,355.27 L494.4,355.13 L495.2,354.99 L496.0,354.84 L496.7,354.69 L497.5,354.53 L498.3,354.36 L499.1,354.19 L499.9,354.02 L500.7,353.84 L501.4,353.65 L502.2,353.46 L503.0,353.26 L503.8,353.07 L504.5,352.87 L505.3,352.66 L506.1,352.46 L506.9,352.25 L507.6,352.05 L508.4,351.84 L509.2,351.64 L510.0,351.43 L510.7,351.23 L511.5,351.03 L512.3,350.83 L513.1,350.64 L513.9,350.45 L514.6,350.27 L515.4,350.09 L516.2,349.91 L517.0,349.75 L517.8,349.58 L518.6,349.43 L519.3,349.28 L520.1,349.14 L520.9,349.00 L521.7,348.87 L522.5,348.75 L523.3,348.63 L524.1,348.51 L524.9,348.40 L525.7,348.29 L526.5,348.18 L527.3,348.08 L528.1,347.97 L528.9,347.86 L529.6,347.74 L530.4,347.62 L531.2,347.50 L532.0,347.36 L532.8,347.21 L533.6,347.04 L534.4,346.86 L535.1,346.66 L535.9,346.44 L536.7,346.20 L537.4,345.93 L538.2,345.64 L538.9,345.33 L539.6,344.99 L540.4,344.62 L541.1,344.23 L541.7,343.82 L542.4,343.38 L543.1,342.91 L543.7,342.43 L544.3,341.92 L544.9,341.39 L545.5,340.85 L546.1,340.28 L546.6,339.71 L547.2,339.11 L547.7,338.51 L548.2,337.89 L548.7,337.26 L549.2,336.62 L549.7,335.97 L550.1,335.31 L550.6,334.64 L551.0,333.97 L551.4,333.29 L551.8,332.60 L552.2,331.91 L552.6,331.21 L553.0,330.51 L553.4,329.80 L553.8,329.09 L554.1,328.37 L554.5,327.65 L554.8,326.93 L555.2,326.20 L555.5,325.48 L555.8,324.74 L556.1,324.01 L556.5,323.27 L556.8,322.53 L557.1,321.79 L557.4,321.05 L557.7,320.30 L558.0,319.56 L558.3,318.81 L558.5,318.06 L558.8,317.31 L559.1,316.56 L559.4,315.80 L559.6,315.05 L559.9,314.29 L560.2,313.54 L560.4,312.78 L560.7,312.02 L560.9,311.26 L561.2,310.50 L561.4,309.74 L561.7,308.97 L561.9,308.21 L562.2,307.45 L562.4,306.68 L562.7,305.92 L562.9,305.15 L563.1,304.39 L563.4,303.62 L563.6,302.85 L563.8,302.09 L564.1,301.32 L564.3,300.55 L564.5,299.78 L564.8,299.01 L565.0,298.24 L565.2,297.47 L565.4,296.71 L565.7,295.94 L565.9,295.17 L566.1,294.39 L566.3,293.62 L566.5,292.85 L566.8,292.08 L567.0,291.31 L567.2,290.54 L567.4,289.77 L567.6,289.00 L567.8,288.23 L568.1,287.45 L568.3,286.68 L568.5,285.91 L568.7,285.14 L568.9,284.37 L569.1,283.59 L569.4,282.82 L569.6,282.05 L569.8,281.28 L570.0,280.50 L570.2,279.73 L570.4,278.96 L570.6,278.19 L570.9,277.42 L571.1,276.64 L571.3,275.87 L571.5,275.10 L571.7,274.33 L571.9,273.56 L572.1,272.78 L572.4,272.01 L572.6,271.24 L572.8,270.47 L573.0,269.69 L573.2,268.92 L573.4,268.15 L573.7,267.38 L573.9,266.61 L574.1,265.84 L574.3,265.06 L574.5,264.29 L574.7,263.52 L575.0,262.75 L575.2,261.98 L575.4,261.21 L575.6,260.43 L575.8,259.66 L576.0,258.89 L576.3,258.12 L576.5,257.35 L576.7,256.58 L576.9,255.81 L577.1,255.03 L577.4,254.26 L577.6,253.49 L577.8,252.72 L578.0,251.95 L578.2,251.18 L578.4,250.40 L578.7,249.63 L578.9,248.86 L579.1,248.09 L579.3,247.32 L579.5,246.55 L579.7,245.78 L580.0,245.00 L580.2,244.23 L580.4,243.46 L580.6,242.69 L580.8,241.92 L581.0,241.14 L581.3,240.37 L581.5,239.60 L581.7,238.83 L581.9,238.06 L582.1,237.28 L582.3,236.51 L582.5,235.74 L582.8,234.97 L583.0,234.19 L583.2,233.42 L583.4,232.65 L583.6,231.88 L583.8,231.10 L584.0,230.33 L584.3,229.56 L584.5,228.78 L584.7,228.01 L584.9,227.24 L585.1,226.47 L585.3,225.69 L585.5,224.92 L585.7,224.15 L585.9,223.37 L586.2,222.60 L586.4,221.83 L586.6,221.05 L586.8,220.28 L587.0,219.51 L587.2,218.73 L587.4,217.96 L587.6,217.19 L587.8,216.41 L588.1,215.64 L588.3,214.87 L588.5,214.09 L588.7,213.32 L588.9,212.54 L589.1,211.77 L589.3,211.00 L589.5,210.22 L589.7,209.45 L589.9,208.68 L590.2,207.90 L590.4,207.13 L590.6,206.35 L590.8,205.58 L591.0,204.81 L591.2,204.03 L591.4,203.26 L591.6,202.49 L591.8,201.71 L592.0,200.94 L592.2,200.17 L592.5,199.39 L592.7,198.62 L592.9,197.84 L593.1,197.07 L593.3,196.30 L593.5,195.52 L593.7,194.75 L593.9,193.98 L594.1,193.20 L594.3,192.43 L594.6,191.66 L594.8,190.88 L595.0,190.11 L595.2,189.34 L595.4,188.56 L595.6,187.79 L595.8,187.02 L596.0,186.24 L596.2,185.47 L596.5,184.70 L596.7,183.92 L596.9,183.15 L597.1,182.38 L597.3,181.60 L597.5,180.83 L597.7,180.06 L597.9,179.28 L598.1,178.51 L598.4,177.74 L598.6,176.96 L598.8,176.19 L599.0,175.42 L599.2,174.64 L599.4,173.87 L599.6,173.10 L599.8,172.33 L600.1,171.55 L600.3,170.78 L600.5,170.01 L600.7,169.23 L600.9,168.46 L601.1,167.69 L601.3,166.92 L601.5,166.14 L601.8,165.37 L602.0,164.60 L602.2,163.83 L602.4,163.05 L602.6,162.28 L602.8,161.51 L603.0,160.74 L603.3,159.97 L603.5,159.19 L603.7,158.42 L603.9,157.65 L604.1,156.88 L604.3,156.11 L604.6,155.33 L604.8,154.56 L605.0,153.79 L605.2,153.02 L605.4,152.25 L605.7,151.48 L605.9,150.71 L606.1,149.94 L606.3,149.16 L606.5,148.39 L606.8,147.62 L607.0,146.85 L607.2,146.08 L607.4,145.31 L607.6,144.54 L607.9,143.77 L608.1,143.00 L608.3,142.24 L608.5,141.47 L608.8,140.70 L609.0,139.93 L609.2,139.16 L609.5,138.39 L609.7,137.62 L609.9,136.86 L610.1,136.09 L610.4,135.32 L610.6,134.56 L610.8,133.79 L611.1,133.02 L611.3,132.26 L611.6,131.49 L611.8,130.73 L612.0,129.96 L612.3,129.20 L612.5,128.44 L612.8,127.67 L613.0,126.91 L613.3,126.15 L613.5,125.39 L613.8,124.63 L614.0,123.87 L614.3,123.11 L614.6,122.35 L614.8,121.59 L615.1,120.84 L615.4,120.08 L615.6,119.33 L615.9,118.58 L616.2,117.82 L616.5,117.07 L616.7,116.32 L617.0,115.57 L617.3,114.83 L617.6,114.08 L617.9,113.34 L618.2,112.60 L618.5,111.86 L618.9,111.13 L619.2,110.39 L619.5,109.66 L619.8,108.93 L620.2,108.21 L620.5,107.49 L620.9,106.77 L621.3,106.06 L621.7,105.36 L622.0,104.66 L622.5,103.97 L622.9,103.29 L623.3,102.62 L623.8,101.96 L624.2,101.32 L624.7,100.69 L625.3,100.09 L625.8,99.51 L626.4,98.97 L627.1,98.48 L627.7,98.06 L628.5,97.71 L629.2,97.48 L630.0,97.38 L630.8,97.43 L631.6,97.62 L632.3,97.94 L633.0,98.36 L633.6,98.86 L634.2,99.41 L634.8,100.00 L635.3,100.62 L635.7,101.27 L636.2,101.93 L636.6,102.61 L637.0,103.31 L637.4,104.01 L637.8,104.72 L638.1,105.44 L638.5,106.17 L638.8,106.90 L639.1,107.64 L639.4,108.38 L639.7,109.12 L640.0,109.87 L640.3,110.62 L640.6,111.37 L640.8,112.13 L641.1,112.88 L641.4,113.64 L641.6,114.40 L641.9,115.16 L642.1,115.93 L642.3,116.69 L642.6,117.46 L642.8,118.22 L643.0,118.99 L643.3,119.76 L643.5,120.53 L643.7,121.30 L643.9,122.07 L644.1,122.85 L644.4,123.62 L644.6,124.39 L644.8,125.17 L645.0,125.94 L645.2,126.72 L645.4,127.49 L645.6,128.27 L645.8,129.04 L646.0,129.82 L646.2,130.60 L646.4,131.38 L646.6,132.15 L646.8,132.93 L646.9,133.71 L647.1,134.49 L647.3,135.27 L647.5,136.05 L647.7,136.83 L647.9,137.61 L648.1,138.39 L648.3,139.17 L648.4,139.95 L648.6,140.73 L648.8,141.51 L649.0,142.29 L649.2,143.07 L649.3,143.85 L649.5,144.64 L649.7,145.42 L649.9,146.20 L650.0,146.98 L650.2,147.76 L650.4,148.54 L650.6,149.33 L650.7,150.11 L650.9,150.89 L651.1,151.67 L651.3,152.46 L651.4,153.24 L651.6,154.02 L651.8,154.80 L652.0,155.59 L652.1,156.37 L652.3,157.15 L652.5,157.94 L652.7,158.72 L652.8,159.50 L653.0,160.28 L653.2,161.07 L653.3,161.85 L653.5,162.63 L653.7,163.42 L653.9,164.20 L654.0,164.98 L654.2,165.77 L654.4,166.55 L654.5,167.33 L654.7,168.12 L654.9,168.90 L655.1,169.68 L655.2,170.46 L655.4,171.25 L655.6,172.03 L655.7,172.81 L655.9,173.60 L656.1,174.38 L656.2,175.16 L656.4,175.95 L656.6,176.73 L656.8,177.51 L656.9,178.30 L657.1,179.08 L657.3,179.86 L657.4,180.65 L657.6,181.43 L657.8,182.21 L658.0,183.00 L658.1,183.78 L658.3,184.56 L658.5,185.34 L658.6,186.13 L658.8,186.91 L659.0,187.69 L659.2,188.48 L659.3,189.26 L659.5,190.04 L659.7,190.83 L659.8,191.61 L660.0,192.39 L660.2,193.17 L660.4,193.96 L660.5,194.74 L660.7,195.52 L660.9,196.30 L661.1,197.09 L661.2,197.87 L661.4,198.65 L661.6,199.44 L661.7,200.22 L661.9,201.00 L662.1,201.78 L662.3,202.57 L662.4,203.35 L662.6,204.13 L662.8,204.91 L663.0,205.70 L663.1,206.48 L663.3,207.26 L663.5,208.04 L663.7,208.82 L663.8,209.61 L664.0,210.39 L664.2,211.17 L664.4,211.95 L664.5,212.74 L664.7,213.52 L664.9,214.30 L665.1,215.08 L665.2,215.86 L665.4,216.65 L665.6,217.43 L665.8,218.21 L665.9,218.99 L666.1,219.77 L666.3,220.56 L666.5,221.34 L666.7,222.12 L666.8,222.90 L667.0,223.68 L667.2,224.46 L667.4,225.25 L667.5,226.03 L667.7,226.81 L667.9,227.59 L668.1,228.37 L668.3,229.15 L668.4,229.93 L668.6,230.71 L668.8,231.50 L669.0,232.28 L669.2,233.06 L669.3,233.84 L669.5,234.62 L669.7,235.40 L669.9,236.18 L670.1,236.96 L670.2,237.74 L670.4,238.52 L670.6,239.30 L670.8,240.08 L671.0,240.87 L671.2,241.65 L671.3,242.43 L671.5,243.21 L671.7,243.99 L671.9,244.77 L672.1,245.55 L672.3,246.33 L672.4,247.11 L672.6,247.89 L672.8,248.67 L673.0,249.45 L673.2,250.23 L673.4,251.01 L673.6,251.79 L673.7,252.56 L673.9,253.34 L674.1,254.12 L674.3,254.90 L674.5,255.68 L674.7,256.46 L674.9,257.24 L675.1,258.02 L675.3,258.80 L675.4,259.58 L675.6,260.35 L675.8,261.13 L676.0,261.91 L676.2,262.69 L676.4,263.47 L676.6,264.25 L676.8,265.02 L677.0,265.80 L677.2,266.58 L677.4,267.36 L677.6,268.13 L677.8,268.91 L678.0,269.69 L678.2,270.46 L678.4,271.24 L678.6,272.02 L678.8,272.79 L679.0,273.57 L679.2,274.35 L679.4,275.12 L679.6,275.90 L679.8,276.67 L680.0,277.45 L680.2,278.23 L680.4,279.00 L680.6,279.78 L680.8,280.55 L681.0,281.33 L681.2,282.10 L681.4,282.87 L681.6,283.65 L681.8,284.42 L682.0,285.19 L682.2,285.97 L682.5,286.74 L682.7,287.51 L682.9,288.29 L683.1,289.06 L683.3,289.83 L683.5,290.60 L683.7,291.37 L684.0,292.15 L684.2,292.92 L684.4,293.69 L684.6,294.46 L684.8,295.23 L685.1,296.00 L685.3,296.77 L685.5,297.53 L685.8,298.30 L686.0,299.07 L686.2,299.84 L686.4,300.61 L686.7,301.37 L686.9,302.14 L687.1,302.90 L687.4,303.67 L687.6,304.43 L687.9,305.20 L688.1,305.96 L688.4,306.73 L688.6,307.49 L688.9,308.25 L689.1,309.01 L689.4,309.77 L689.6,310.53 L689.9,311.29 L690.1,312.05 L690.4,312.81 L690.6,313.57 L690.9,314.32 L691.2,315.08 L691.4,315.83 L691.7,316.59 L692.0,317.34 L692.3,318.09 L692.6,318.84 L692.8,319.59 L693.1,320.34 L693.4,321.09 L693.7,321.84 L694.0,322.58 L694.3,323.32 L694.6,324.07 L694.9,324.81 L695.2,325.55 L695.5,326.28 L695.9,327.02 L696.2,327.75 L696.5,328.48 L696.8,329.21 L697.2,329.94 L697.5,330.66 L697.9,331.39 L698.2,332.11 L698.6,332.82 L698.9,333.54 L699.3,334.25 L699.7,334.96 L700.1,335.66 L700.5,336.36 L700.9,337.06 L701.3,337.75 L701.7,338.44 L702.1,339.12 L702.5,339.80 L703.0,340.47 L703.4,341.13 L703.9,341.79 L704.3,342.44 L704.8,343.09 L705.3,343.73 L705.8,344.35 L706.3,344.97 L706.8,345.58 L707.4,346.18 L707.9,346.76 L708.5,347.34 L709.0,347.90 L709.6,348.45 L710.2,348.98 L710.8,349.50 L711.5,350.00 L712.1,350.48 L712.8,350.94 L713.4,351.39 L714.1,351.81 L714.8,352.22 L715.5,352.60 L716.2,352.97 L716.9,353.31 L717.7,353.63 L718.4,353.94 L719.2,354.22 L719.9,354.48 L720.7,354.72 L721.5,354.94 L722.2,355.15 L723.0,355.34 L723.8,355.51 L724.6,355.66 L725.4,355.81 L726.2,355.94 L726.9,356.05 L727.7,356.16 L728.5,356.25 L729.3,356.34 L730.1,356.42 L730.9,356.48 L731.7,356.55 L732.5,356.60 L733.3,356.65 L734.1,356.69 L734.9,356.73 L735.7,356.77 L736.5,356.80 L737.3,356.82 L738.1,356.84 L738.9,356.87 L739.7,356.88 L740.5,356.90 L741.3,356.91 L742.1,356.92 L742.9,356.94 L743.7,356.94 L744.5,356.95 L745.3,356.96 L746.2,356.96 L747.0,356.97" class="cb"/>
<line x1="424.00" y1="357" x2="464.81" y2="357" class="bl"/>
<line x1="746.95" y1="357" x2="765.00" y2="357" class="bl"/>
<rect x="410" y="26.7" width="369" height="343.0" class="box"/>
<line x1="424.0" y1="369.6" x2="424.0" y2="376.6" class="tk"/>
<text x="424.0" y="392.8" class="n" text-anchor="middle">0.52</text>
<line x1="492.2" y1="369.6" x2="492.2" y2="376.6" class="tk"/>
<text x="492.2" y="392.8" class="n" text-anchor="middle">0.53</text>
<line x1="560.4" y1="369.6" x2="560.4" y2="376.6" class="tk"/>
<text x="560.4" y="392.8" class="n" text-anchor="middle">0.54</text>
<line x1="628.6" y1="369.6" x2="628.6" y2="376.6" class="tk"/>
<text x="628.6" y="392.8" class="n" text-anchor="middle">0.55</text>
<line x1="696.8" y1="369.6" x2="696.8" y2="376.6" class="tk"/>
<text x="696.8" y="392.8" class="n" text-anchor="middle">0.56</text>
<line x1="765.0" y1="369.6" x2="765.0" y2="376.6" class="tk"/>
<text x="765.0" y="392.8" class="n" text-anchor="middle">0.57</text>
<text x="594.5" y="415.8" class="n" text-anchor="middle">Mean β</text>
<line x1="419" y1="39.5" x2="439.2" y2="39.5" class="lr"/>
<line x1="419" y1="52.0" x2="439.2" y2="52.0" class="lb"/>
<text x="448.7" y="43.1" class="l">Cases</text>
<text x="448.7" y="55.8" class="l">Controls</text>
</svg>
</body></html>
